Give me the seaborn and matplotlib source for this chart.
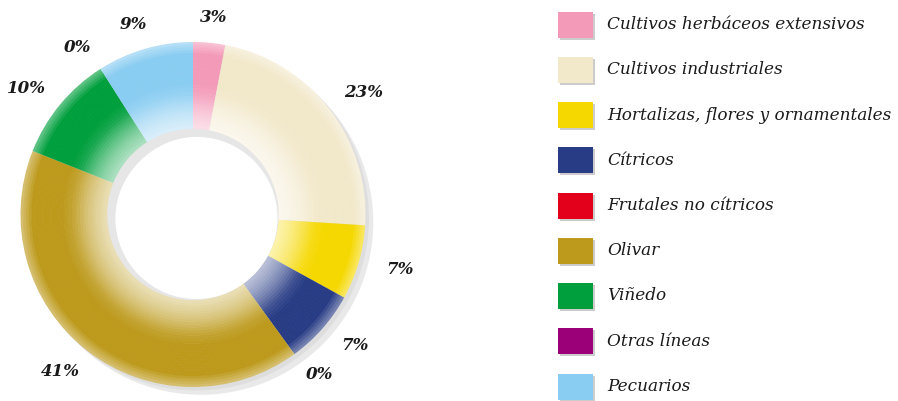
import numpy as np
import matplotlib
matplotlib.use("Agg")
import matplotlib.pyplot as plt
import matplotlib.colors as mcolors
from matplotlib.patches import Rectangle
import seaborn as sns

sns.set_style("white")

categories = ["Cultivos herbáceos extensivos", "Cultivos industriales",
              "Hortalizas, flores y ornamentales", "Cítricos",
              "Frutales no cítricos", "Olivar", "Viñedo", "Otras líneas",
              "Pecuarios"]
values = [3, 23, 7, 7, 0, 41, 10, 0, 9]
colors = ["#F49AB9", "#F2E8CA", "#F5D800", "#283C85", "#E2001A",
          "#BD9A1C", "#009F3D", "#9B0078", "#8ACDF2"]
pct_labels = [f"{v}%" for v in values]

fig = plt.figure(figsize=(8.98, 4.01), dpi=100)
W, H = 898, 401
cx, cy, R = 193, 214.5, 172.5
half = 215
ax = fig.add_axes([(cx - half) / W, (H - cy - half) / H, 2 * half / W, 2 * half / H])

# drop shadow of the ring
ax.pie([1], radius=1.0, colors=["#e9e9e9"], center=(0.045, -0.045),
       wedgeprops=dict(width=0.5, linewidth=0), startangle=90)
ax.pie([1], radius=1.0, colors=["#dedede"], center=(0.02, -0.02),
       wedgeprops=dict(width=0.5, linewidth=0), startangle=90)
ax.pie([1], radius=0.53, colors=["#e6e6e6"], center=(0.02, -0.02),
       wedgeprops=dict(width=0.06, linewidth=0), startangle=90)


def white_frac(r):
    # radial shading profile of the ring
    pts_r = [0.5, 0.56, 0.62, 0.70, 0.76, 0.93, 1.0]
    pts_f = [0.68, 0.55, 0.38, 0.10, 0.0, 0.0, 0.4]
    return np.interp(r, pts_r, pts_f)


n = 32
edges = np.linspace(1.0, 0.5, n + 1)
base = [np.array(mcolors.to_rgb(c)) for c in colors]
for i in range(n):
    r_out, r_in = edges[i], edges[i + 1]
    f = white_frac((r_out + r_in) / 2)
    cols = [b * (1 - f) + f for b in base]
    wedges, _ = ax.pie(values, radius=r_out, colors=cols, startangle=90,
                       counterclock=False,
                       wedgeprops=dict(width=r_out - r_in + 0.003, linewidth=0))

# percentage labels on an ellipse around the ring, at each wedge's mid angle
rx, ry = 1.25, 1.15
for w, lab in zip(wedges, pct_labels):
    ang = np.deg2rad((w.theta1 + w.theta2) / 2)
    ax.text(rx * np.cos(ang), ry * np.sin(ang), lab, ha="center", va="center",
            family="DejaVu Serif", style="italic", weight="bold",
            fontsize=12, color="#1a1a1a")

lim = half / R
ax.set_xlim(-lim, lim)
ax.set_ylim(-lim, lim)
ax.set_aspect("equal")
ax.axis("off")

# legend
lx = fig.add_axes([0, 0, 1, 1], facecolor="none")
lx.set_xlim(0, W)
lx.set_ylim(H, 0)
lx.axis("off")
y0, step = 24.5, 45.25
for i, (lab, c) in enumerate(zip(categories, colors)):
    yc = y0 + i * step
    lx.add_patch(Rectangle((560, yc - 11), 35, 26, color="#cccccc", lw=0))
    lx.add_patch(Rectangle((558, yc - 13), 35, 26, color=c, lw=0))
    lx.text(607, yc, lab, ha="left", va="center", family="DejaVu Serif",
            style="italic", fontsize=12.2, color="#1a1a1a")

fig.savefig("out.png", dpi=100)
